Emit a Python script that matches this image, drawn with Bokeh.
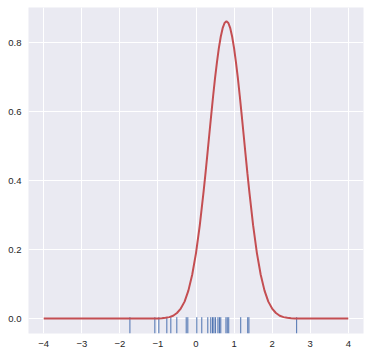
from bokeh.plotting import figure
from bokeh.models import Range1d, FixedTicker
from bokeh.embed import file_html
from bokeh.resources import INLINE

rug_x = [-1.736, -1.081, -0.976, -0.766, -0.661, -0.504, -0.257, -0.215,
         0.021, 0.152, 0.310, 0.388, 0.433, 0.470, 0.510, 0.577, 0.616,
         0.651, 0.787, 0.821, 0.860, 1.175, 1.359, 1.390, 2.644]

# Density curve
curve_x = [-4.0, -1.0, -0.9, -0.8, -0.7, -0.6, -0.5, -0.4, -0.3, -0.2, -0.1,
           0.0, 0.1, 0.2, 0.25, 0.3, 0.35, 0.4, 0.45, 0.5, 0.55, 0.6, 0.65,
           0.7, 0.75, 0.8, 0.85, 0.9, 0.95, 1.0, 1.05, 1.1, 1.15, 1.2, 1.25,
           1.3, 1.35, 1.4, 1.5, 1.6, 1.7, 1.8, 1.9, 2.0, 2.1, 2.2, 2.3, 2.4,
           2.5, 2.6, 4.0]
curve_y = [0.0, 0.0004, 0.001, 0.002, 0.004, 0.008, 0.016, 0.029, 0.049,
           0.081, 0.127, 0.190, 0.271, 0.369, 0.422, 0.478, 0.535, 0.591,
           0.646, 0.698, 0.744, 0.785, 0.818, 0.843, 0.858, 0.863, 0.858,
           0.843, 0.818, 0.785, 0.744, 0.698, 0.646, 0.591, 0.535, 0.478,
           0.422, 0.369, 0.271, 0.190, 0.127, 0.081, 0.049, 0.029, 0.016,
           0.008, 0.004, 0.002, 0.001, 0.0004, 0.0]

x_ticks = [-4, -3, -2, -1, 0, 1, 2, 3, 4]
x_tick_labels = ["\u22124", "\u22123", "\u22122", "\u22121", "0", "1", "2", "3", "4"]
y_ticks = [0.0, 0.2, 0.4, 0.6, 0.8]
y_tick_labels = ["0.0", "0.2", "0.4", "0.6", "0.8"]

y_lo, y_hi = -0.0435, 0.903

p = figure(width=370, height=356, output_backend="svg", toolbar_location=None,
           x_range=Range1d(-4.4, 4.4), y_range=Range1d(y_lo, y_hi),
           min_border_left=28, min_border_right=7, min_border_top=7,
           min_border_bottom=23)

p.background_fill_color = "#EAEAF2"
p.border_fill_color = "white"
p.outline_line_color = None

for g in (p.xgrid, p.ygrid):
    g.grid_line_color = "white"
    g.grid_line_width = 1

for ax in (p.xaxis, p.yaxis):
    ax.axis_line_color = None
    ax.major_tick_line_color = None
    ax.minor_tick_line_color = None
    ax.major_tick_in = 0
    ax.major_tick_out = 0
    ax.major_label_text_font = "Liberation Sans"
    ax.major_label_text_font_size = "9.5px"
    ax.major_label_text_color = "#262626"
    ax.major_label_standoff = 7

p.xaxis.ticker = FixedTicker(ticks=x_ticks)
p.xaxis.major_label_overrides = {t: l for t, l in zip(x_ticks, x_tick_labels)}
p.yaxis.ticker = FixedTicker(ticks=y_ticks)
p.yaxis.major_label_overrides = {t: l for t, l in zip(y_ticks, y_tick_labels)}

rug_top = y_lo + 0.05 * (y_hi - y_lo)
p.segment(x0=rug_x, y0=[y_lo] * len(rug_x), x1=rug_x, y1=[rug_top] * len(rug_x),
          line_color="#4C72B0", line_width=1)

p.line(curve_x, curve_y, line_color="#C44E52", line_width=2)

open("out.html", "w").write(file_html(p, INLINE))
